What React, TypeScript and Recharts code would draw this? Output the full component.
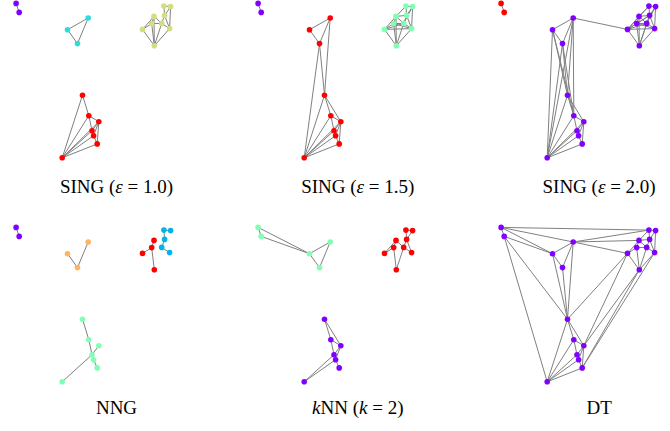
import React from 'react';
import { ScatterChart, Scatter, XAxis, YAxis, ReferenceLine } from 'recharts';

// ---- point set (shared by every panel) ----
const pointIds = ['P0', 'P1', 'C0', 'C1', 'C2', 'Y0', 'Y1', 'Y2', 'Y3', 'Y4', 'Y5', 'Y6', 'Y7', 'Y8', 'R0', 'R1', 'R2', 'R3', 'R4', 'R5', 'R6'];
const pointX = [16.1, 19.2, 88.2, 67.5, 77.5, 163.9, 170.6, 154.0, 164.6, 151.7, 161.7, 142.5, 169.6, 154.3, 82.5, 88.8, 98.8, 92.0, 93.6, 97.2, 62.2];
const pointY = [3.4, 12.4, 18.0, 29.7, 43.6, 6.1, 6.6, 16.4, 15.4, 23.6, 23.4, 29.4, 28.6, 45.8, 95.2, 115.7, 121.7, 130.7, 135.7, 143.9, 157.8];

// ---- colours (rainbow colormap) ----
const PURPLE = '#8000ff';
const CYAN = '#2adddd';
const YELLOW = '#d4dd80';
const RED = '#ff0000';
const GREEN = '#80ffb4';
const BLUE = '#00b4eb';
const ORANGE = '#ffb462';
const EDGE = '#808080';

// ---- clusters per panel ----
const groupsSing10: [string, string[]][] = [
  [PURPLE, ['P0', 'P1']],
  [CYAN, ['C0', 'C1', 'C2']],
  [YELLOW, ['Y0', 'Y1', 'Y2', 'Y3', 'Y4', 'Y5', 'Y6', 'Y7', 'Y8']],
  [RED, ['R0', 'R1', 'R2', 'R3', 'R4', 'R5', 'R6']],
];
const groupsSing15: [string, string[]][] = [
  [PURPLE, ['P0', 'P1']],
  [GREEN, ['Y0', 'Y1', 'Y2', 'Y3', 'Y4', 'Y5', 'Y6', 'Y7', 'Y8']],
  [RED, ['C0', 'C1', 'C2', 'R0', 'R1', 'R2', 'R3', 'R4', 'R5', 'R6']],
];
const groupsSing20: [string, string[]][] = [
  [RED, ['P0', 'P1']],
  [PURPLE, ['C0', 'C1', 'C2', 'Y0', 'Y1', 'Y2', 'Y3', 'Y4', 'Y5', 'Y6', 'Y7', 'Y8', 'R0', 'R1', 'R2', 'R3', 'R4', 'R5', 'R6']],
];
const groupsNng: [string, string[]][] = [
  [PURPLE, ['P0', 'P1']],
  [ORANGE, ['C0', 'C1', 'C2']],
  [RED, ['Y2', 'Y4', 'Y6', 'Y8']],
  [BLUE, ['Y0', 'Y1', 'Y3', 'Y5', 'Y7']],
  [GREEN, ['R0', 'R1', 'R2', 'R3', 'R4', 'R5', 'R6']],
];
const groupsKnn: [string, string[]][] = [
  [GREEN, ['P0', 'P1', 'C0', 'C1', 'C2']],
  [RED, ['Y0', 'Y1', 'Y2', 'Y3', 'Y4', 'Y5', 'Y6', 'Y7', 'Y8']],
  [PURPLE, ['R0', 'R1', 'R2', 'R3', 'R4', 'R5', 'R6']],
];
const groupsDt: [string, string[]][] = [
  [PURPLE, pointIds],
];

// ---- edges per panel ----
const yellowEdgesA = ['Y0-Y1', 'Y0-Y3', 'Y1-Y3', 'Y1-Y7', 'Y3-Y5', 'Y3-Y7', 'Y2-Y4', 'Y2-Y6', 'Y2-Y8', 'Y2-Y5', 'Y4-Y5', 'Y4-Y6', 'Y4-Y8', 'Y5-Y8', 'Y5-Y7', 'Y6-Y8', 'Y7-Y8'];
const yellowEdgesB = ['Y0-Y2', 'Y2-Y3', 'Y6-Y5', 'Y6-Y7', 'Y4-Y7', 'Y1-Y5'];
const yellowEdgesC = ['Y6-Y3', 'Y6-Y0', 'Y4-Y3', 'Y8-Y3'];
const redEdges = ['R0-R1', 'R0-R6', 'R1-R2', 'R1-R3', 'R1-R6', 'R2-R3', 'R2-R4', 'R2-R5', 'R2-R6', 'R3-R4', 'R3-R6', 'R4-R5', 'R4-R6', 'R5-R6'];
const triangleEdges = ['C0-C1', 'C1-C2', 'C0-C2'];

const edgesSing10 = ['P0-P1', ...triangleEdges, ...yellowEdgesA, ...redEdges];
const edgesSing15 = ['P0-P1', ...triangleEdges, ...yellowEdgesA, ...yellowEdgesB, 'C0-R0', 'C2-R0', 'C2-R6', 'R0-R2', ...redEdges];
const edgesSing20 = ['P0-P1', ...triangleEdges, ...yellowEdgesA, ...yellowEdgesB, ...yellowEdgesC, 'C0-Y6', 'C1-R6', 'C1-R0', 'C1-R1', 'C0-R6', 'C0-R0', 'C0-R1', 'C2-R6', 'C2-R0', 'C2-R1', 'R0-R2', ...redEdges];
const edgesNng = ['P0-P1', 'C0-C2', 'C1-C2', 'Y2-Y4', 'Y4-Y6', 'Y4-Y8', 'Y0-Y1', 'Y0-Y3', 'Y3-Y5', 'Y5-Y7', 'R0-R1', 'R1-R3', 'R2-R3', 'R3-R4', 'R4-R5', 'R3-R6'];
const edgesKnn = ['P0-P1', 'P0-C1', 'P1-C1', ...triangleEdges,
  'Y0-Y1', 'Y0-Y3', 'Y1-Y3', 'Y3-Y5', 'Y2-Y5', 'Y2-Y4', 'Y2-Y6', 'Y4-Y6', 'Y4-Y8', 'Y5-Y8', 'Y5-Y7', 'Y3-Y7',
  'R0-R1', 'R0-R2', 'R1-R2', 'R1-R3', 'R2-R3', 'R3-R4', 'R2-R4', 'R4-R5', 'R3-R6', 'R4-R6'];
const edgesDt = ['P0-P1', 'P0-Y0', 'P0-C0', 'P0-C1', 'P1-C1', 'P1-R0', 'P1-R6', ...triangleEdges,
  'C0-Y0', 'C0-Y2', 'C0-Y6', 'C0-R0', 'C1-R0', 'C2-R0', 'Y6-R0', 'Y6-R2', 'Y6-Y2', 'Y6-Y4', 'Y6-Y8',
  'Y8-R2', 'Y8-R5', 'Y7-R5', 'Y0-Y1', 'Y0-Y2', 'Y0-Y3', 'Y1-Y3', 'Y1-Y7', 'Y3-Y7', 'Y2-Y3', 'Y2-Y4',
  'Y3-Y5', 'Y4-Y5', 'Y2-Y5', 'Y5-Y7', 'Y4-Y8', 'Y5-Y8', 'Y7-Y8',
  'R0-R1', 'R0-R2', 'R1-R2', 'R0-R6', 'R1-R6', 'R1-R3', 'R3-R6', 'R4-R6', 'R5-R6', 'R3-R4', 'R4-R5', 'R2-R3', 'R2-R4', 'R2-R5'];

// ---- titles: [text, italic] segments ----
const titleSing10: [string, boolean][] = [['SING (', false], ['ε', true], [' = 1.0)', false]];
const titleSing15: [string, boolean][] = [['SING (', false], ['ε', true], [' = 1.5)', false]];
const titleSing20: [string, boolean][] = [['SING (', false], ['ε', true], [' = 2.0)', false]];
const titleNng: [string, boolean][] = [['NNG', false]];
const titleKnn: [string, boolean][] = [['k', true], ['NN (', false], ['k', true], [' = 2)', false]];
const titleDt: [string, boolean][] = [['DT', false]];

const panels = [
  { groups: groupsSing10, edges: edgesSing10, title: titleSing10 },
  { groups: groupsSing15, edges: edgesSing15, title: titleSing15 },
  { groups: groupsSing20, edges: edgesSing20, title: titleSing20 },
  { groups: groupsNng, edges: edgesNng, title: titleNng },
  { groups: groupsKnn, edges: edgesKnn, title: titleKnn },
  { groups: groupsDt, edges: edgesDt, title: titleDt },
];

const PANEL_W = 242;
const PANEL_H = 215;

function pt(id: string) {
  const i = pointIds.indexOf(id);
  return { x: pointX[i], y: pointY[i] };
}

function Panel({ groups, edges }: { groups: [string, string[]][]; edges: string[] }) {
  return (
    <ScatterChart width={PANEL_W} height={PANEL_H} margin={{ top: 0, right: 0, bottom: 0, left: 0 }}>
      <XAxis type="number" dataKey="x" domain={[0, PANEL_W]} hide />
      <YAxis type="number" dataKey="y" domain={[0, PANEL_H]} reversed hide />
      {edges.map((e, k) => {
        const [a, b] = e.split('-');
        return (
          <ReferenceLine
            key={'e' + k}
            segment={[pt(a), pt(b)]}
            stroke={EDGE}
            strokeWidth={1}
            ifOverflow="visible"
          />
        );
      })}
      {groups.map(([color, ids], g) => (
        <Scatter
          key={'g' + g}
          data={ids.map((id) => pt(id))}
          fill={color}
          isAnimationActive={false}
          shape={(p: any) => <circle cx={p.cx} cy={p.cy} r={2.8} fill={color} />}
        />
      ))}
    </ScatterChart>
  );
}

export default function App() {
  return (
    <div style={{ position: 'absolute', left: 0, top: 0, width: 670, height: 431, background: '#fff', overflow: 'hidden' }}>
      {panels.map((p, i) => {
        const col = i % 3;
        const row = Math.floor(i / 3);
        return (
          <React.Fragment key={i}>
            <div style={{ position: 'absolute', left: col * 242.35, top: row * 224.2 }}>
              <Panel groups={p.groups} edges={p.edges} />
            </div>
            <div
              style={{
                position: 'absolute',
                left: 116.5 + col * 241.3 - 100,
                width: 200,
                top: row === 0 ? 177 : 398,
                lineHeight: '20px',
                textAlign: 'center',
                fontFamily: '"Liberation Serif", serif',
                fontSize: 19,
                color: '#000',
                whiteSpace: 'pre',
              }}
            >
              {p.title.map(([t, it], k) => (
                <span key={k} style={{ fontStyle: it ? 'italic' : 'normal' }}>{t}</span>
              ))}
            </div>
          </React.Fragment>
        );
      })}
    </div>
  );
}
